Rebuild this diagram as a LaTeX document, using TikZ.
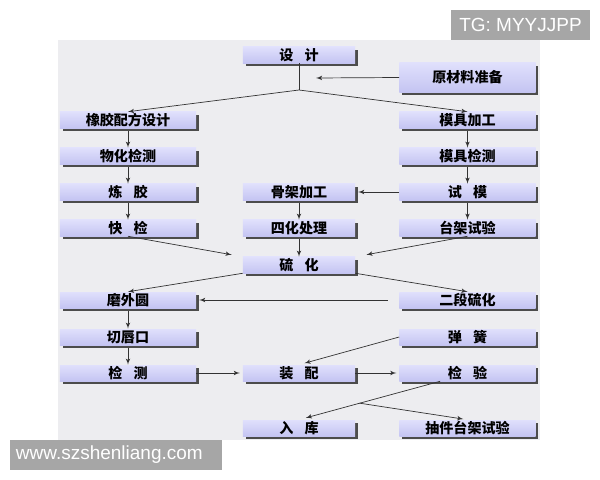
\documentclass[tikz,border=0pt]{standalone}
\usepackage{fontspec}
\setmainfont{Liberation Sans}
\newfontfamily\cjk{Noto Sans CJK SC}
\usetikzlibrary{shapes,arrows,positioning,calc,shadows}
\definecolor{boxtop}{RGB}{224,224,252}
\definecolor{boxbot}{RGB}{196,196,242}
\definecolor{panel}{RGB}{237,237,240}
\definecolor{wmgray}{RGB}{166,166,166}
\newcommand{\gapsp}{\hspace{0.8em}}

\begin{document}
\begin{tikzpicture}[
        x = 0.025cm, y = -0.025cm,
        box/.style = {rectangle, top color=boxtop, bottom color=boxbot, minimum width=3.4cm, minimum height=0.4cm, inner sep=0pt, font=\cjk\bfseries\fontsize{10}{12}\selectfont, drop shadow={shadow xshift=0.07cm, shadow yshift=-0.07cm, fill=black!70, opacity=1}},
        cbox/.style = {box, minimum width=2.8cm},
        line/.style = {draw, black!80, line width=0.5pt, -latex'},
        wmark/.style = {rectangle, fill=wmgray, text=white, inner sep=0pt, minimum height=0.75cm, font=\fontsize{13.5}{16}\selectfont}
    ]
    \useasboundingbox (0,0) rectangle (600,480);
    \fill [panel] (58,40) rectangle (540,440);

        % Place nodes
        \node [cbox] (sj) at (299,55) {设\gapsp 计};
        \node [box, minimum height=0.725cm] (ycl) at (467.5,77.5) {原材料准备};

        \node [box] (xjpf) at (128,120) {橡胶配方设计};
        \node [box] (whjc) at (128,156) {物化检测};
        \node [box] (lj) at (128,192) {炼\gapsp 胶};
        \node [box] (kj) at (128,228) {快\gapsp 检};
        \node [box] (mwy) at (128,300) {磨外圆};
        \node [box] (qck) at (128,337) {切唇口};
        \node [box] (jc) at (128,373) {检\gapsp 测};

        \node [cbox] (gjjg) at (299,192) {骨架加工};
        \node [cbox] (shcl) at (299,228) {四化处理};
        \node [cbox] (lh) at (299,265) {硫\gapsp 化};
        \node [cbox] (zp) at (299,373) {装\gapsp 配};
        \node [cbox] (rk) at (299,428) {入\gapsp 库};

        \node [box] (mjjg) at (467.5,120) {模具加工};
        \node [box] (mjjc) at (467.5,156) {模具检测};
        \node [box] (sm) at (467.5,192) {试\gapsp 模};
        \node [box] (tjsy) at (467.5,228) {台架试验};
        \node [box] (edlh) at (467.5,300) {二段硫化};
        \node [box] (th) at (467.5,337) {弹\gapsp 簧};
        \node [box] (jy) at (467.5,373) {检\gapsp 验};
        \node [box] (cjtj) at (467.5,428) {抽件台架试验};

        \node [wmark, minimum width=3.475cm] (tg) at (520.5,25) {TG: MYYJJPP};
        \node [wmark, minimum width=5.3cm, text width=5cm, align=left] (web) at (116,455) {www.szshenliang.com};

        \coordinate (fork1) at (299,90);
        \coordinate (rawin) at (316,78);
        \coordinate (jyout) at ($(jy.south west)!0.3!(jy.south east)$);
        \coordinate (fork2) at ($(jyout)!0.57!(rk.north)$);

        % Draw edges
        \draw [black!80, line width=0.5pt] (sj.south) -- (fork1);
        \draw [line] (fork1) -- (xjpf.north);
        \draw [line] (fork1) -- (mjjg.north);
        \draw [line] (ycl.west) -- (rawin);
        \foreach \a/\b in {xjpf/whjc, whjc/lj, lj/kj, mwy/qck, qck/jc, gjjg/shcl, shcl/lh, mjjg/mjjc, mjjc/sm, sm/tjsy}
            \draw [line, shorten <=2pt] (\a.south) -- (\b.north);
        \draw [line, shorten >=2pt] (sm.west) -- (gjjg.east);
        \draw [line, shorten >=8pt] (kj.south) -- (lh.north west);
        \draw [line, shorten >=8pt] (tjsy.south) -- (lh.north east);
        \draw [line] (lh.south west) -- (mwy.north);
        \draw [line] (lh.south east) -- (edlh.north);
        \draw [line, shorten <=8pt, shorten >=2pt] (edlh.west) -- (mwy.east);
        \draw [line, shorten >=4pt] (th.west) -- (zp.north);
        \draw [line, shorten >=2pt] (jc.east) -- (zp.west);
        \draw [line, shorten >=2pt] (zp.east) -- (jy.west);
        \draw [line, shorten >=5pt] (jyout) -- (rk.north);
        \draw [line, shorten >=3pt] (fork2) -- (cjtj.north);

    \end{tikzpicture}
\end{document}
